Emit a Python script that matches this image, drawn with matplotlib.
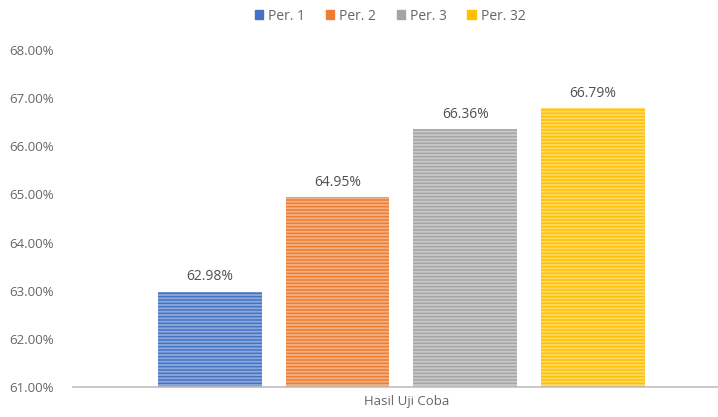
import matplotlib
matplotlib.use("Agg")
import matplotlib.pyplot as plt
from matplotlib.ticker import FuncFormatter

plt.rcParams['font.family'] = ['Open Sans', 'DejaVu Sans']
plt.rcParams['hatch.linewidth'] = 1.3

category = "Hasil Uji Coba"
series = ["Per. 1", "Per. 2", "Per. 3", "Per. 32"]
values = [62.98, 64.95, 66.36, 66.79]
colors = ["#4472C4", "#ED7D31", "#A5A5A5", "#FFC000"]
yticks = [61, 62, 63, 64, 65, 66, 67, 68]

fig = plt.figure(figsize=(7.18, 4.17), dpi=100)
ax = fig.add_axes([73/718, 1-387/417, 645/718, (387-50)/417])

width = 0.161
step = 0.198
n = len(series)
for i, (s, v, c) in enumerate(zip(series, values, colors)):
    x = (i - (n-1)/2) * step
    ax.bar(x, v - 61, bottom=61, width=width, color=c, label=s,
           edgecolor=(1, 1, 1, 0.4), linewidth=0, hatch='-----')
    ax.text(x, v + 0.15, f"{v:.2f}%", ha='center', va='bottom',
            fontsize=10, color='#505050')

ax.set_xlim(-0.509, 0.491)
ax.set_ylim(61, 68)
ax.set_yticks(yticks)
ax.yaxis.set_major_formatter(FuncFormatter(lambda v, p: f"{v:.2f}%"))
ax.set_xticks([0.009])
ax.set_xticklabels([category])
ax.tick_params(axis='both', length=0, labelsize=9.5, colors='#666666')
ax.tick_params(axis='y', pad=14)
ax.tick_params(axis='x', pad=6)
for sp in ['top', 'right', 'left']:
    ax.spines[sp].set_visible(False)
ax.spines['bottom'].set_color('#BFBFBF')
ax.spines['bottom'].set_linewidth(1.2)

handles = [plt.Rectangle((0, 0), 1, 1, color=c) for c in colors]
fig.legend(handles, series, loc='center', bbox_to_anchor=(390/718, 1-16/417),
           ncol=4, frameon=False, fontsize=10, handlelength=0.6, handleheight=0.6,
           handletextpad=0.35, columnspacing=1.5, labelcolor='#666666')

fig.savefig("out.png", dpi=100)
